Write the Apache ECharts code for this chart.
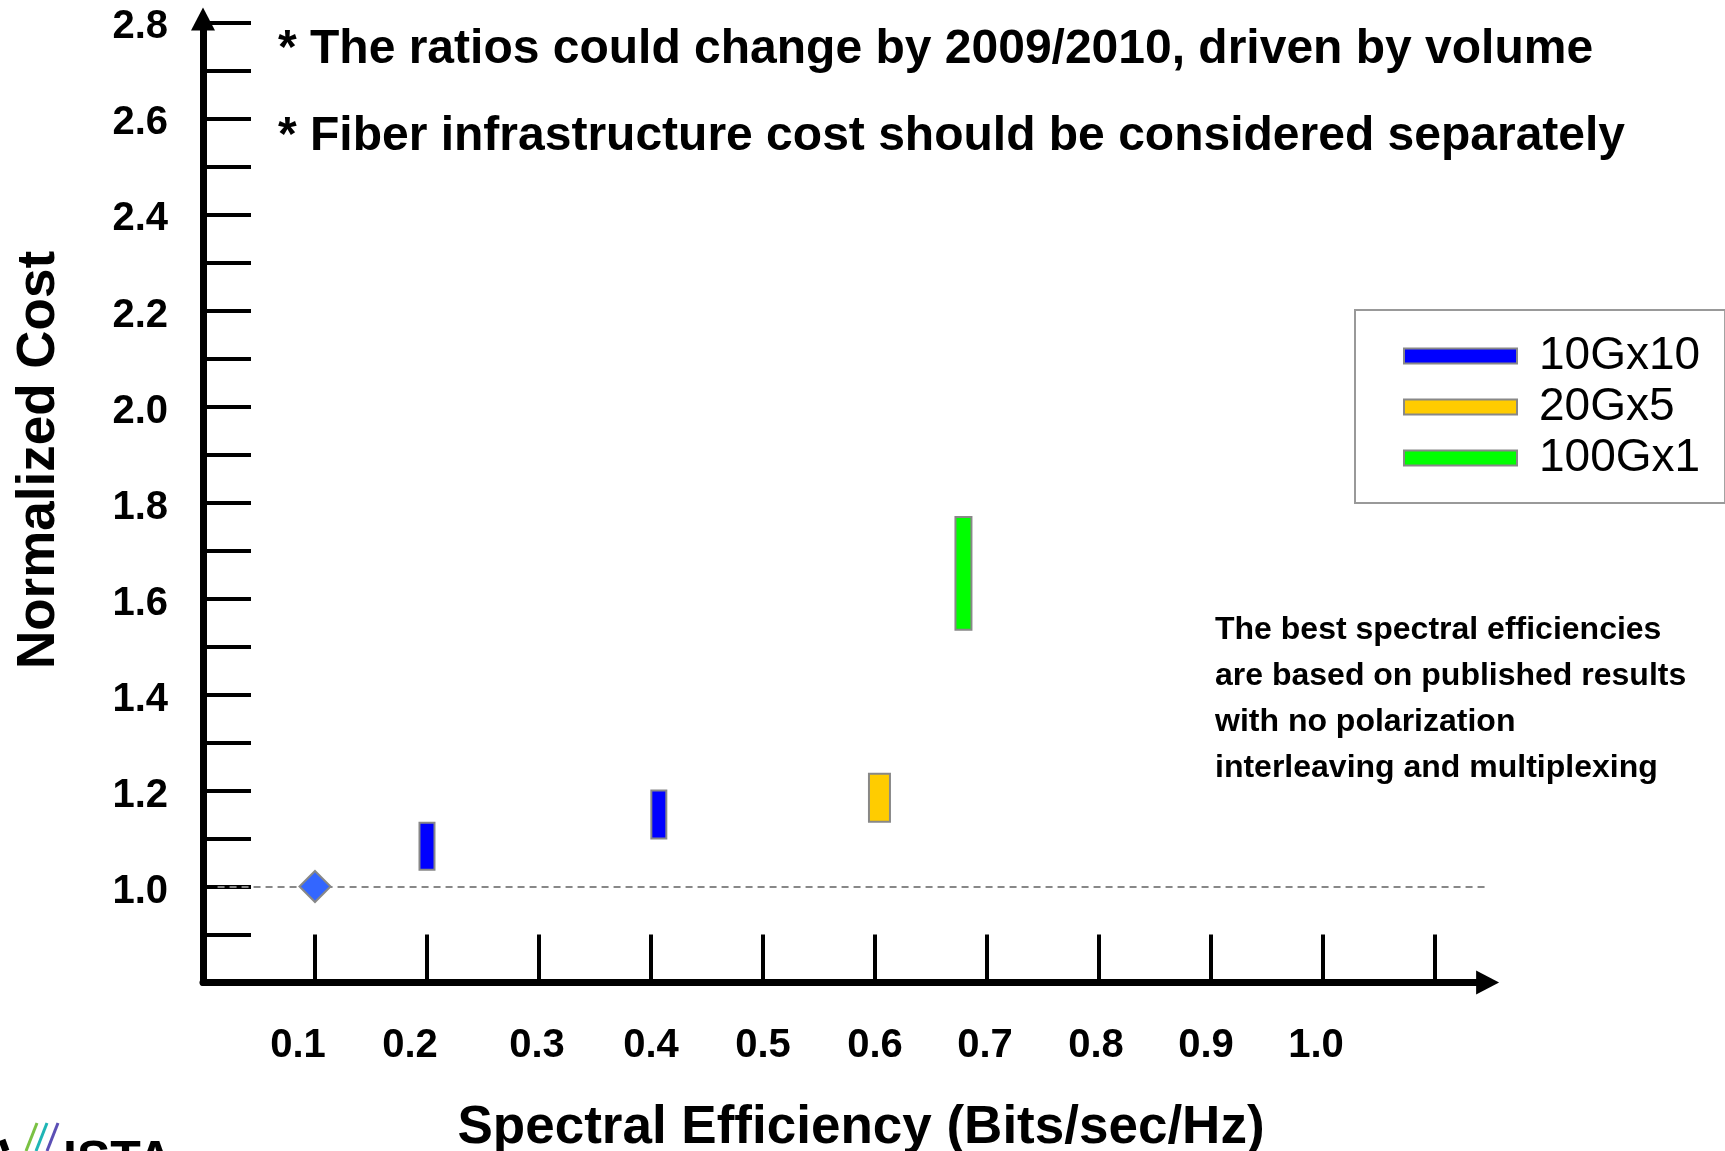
<!DOCTYPE html>
<html>
<head>
<meta charset="utf-8">
<script src="https://cdn.jsdelivr.net/npm/echarts@6/dist/echarts.min.js"></script>
<style>
  html, body { margin: 0; padding: 0; background: #fff; }
  #chart { width: 1725px; height: 1151px; }
</style>
</head>
<body>
<div id="chart"></div>
<script>
// data: [spectral efficiency, low cost, high cost]
var seriesNames = ['10Gx10', '20Gx5', '100Gx1'];
var cost10Gx10 = [[0.2, 1.035, 1.133], [0.407, 1.10, 1.20]];
var cost20Gx5 = [[0.604, 1.135, 1.235]];
var cost100Gx1 = [[0.679, 1.535, 1.77]];
var baseline = [[0.1, 1.0]];

var xTicks = [0.1, 0.2, 0.3, 0.4, 0.5, 0.6, 0.7, 0.8, 0.9, 1.0, 1.1];
var xLabels = [0.1, 0.2, 0.3, 0.4, 0.5, 0.6, 0.7, 0.8, 0.9, 1.0];
var yTicks = [0.9, 1.0, 1.1, 1.2, 1.3, 1.4, 1.5, 1.6, 1.7, 1.8, 1.9, 2.0, 2.1, 2.2, 2.3, 2.4, 2.5, 2.6, 2.7, 2.8];
var yLabels = [1.0, 1.2, 1.4, 1.6, 1.8, 2.0, 2.2, 2.4, 2.6, 2.8];

var notes = [
  '* The ratios could change by 2009/2010, driven by volume',
  '* Fiber infrastructure cost should be considered separately'
];
var sideNote = [
  'The best spectral efficiencies',
  'are based on published results',
  'with no polarization',
  'interleaving and multiplexing'
];

var FONT = '"Liberation Sans", Arial, sans-serif';
var colors = { '10Gx10': '#0000FF', '20Gx5': '#FFCC00', '100Gx1': '#00FF00' };
var barWidth = { '10Gx10': 15, '20Gx5': 21, '100Gx1': 16 };
// on the slide the x labels sit a little left of their ticks (px)
var xLabelShift = { '0.1': 17, '0.2': 17, '0.3': 2, '0.7': 2, '0.8': 3, '0.9': 5, '1.0': 7 };

// vertical range bar drawn through the axes
function rangeBar(name) {
  return function (params, api) {
    var top = api.coord([api.value(0), api.value(2)]);
    var bot = api.coord([api.value(0), api.value(1)]);
    var w = barWidth[name];
    return {
      type: 'rect',
      shape: { x: top[0] - w / 2, y: top[1], width: w, height: bot[1] - top[1] },
      style: { fill: colors[name], stroke: '#888', lineWidth: 2 }
    };
  };
}

function barSeries(name, data) {
  return {
    name: name,
    type: 'custom',
    renderItem: rangeBar(name),
    encode: { x: 0, y: [1, 2] },
    itemStyle: { color: colors[name] },
    data: data,
    z: 5
  };
}

var labelFont = { fontSize: 40, fontWeight: 'bold', color: '#000', fontFamily: FONT };

var xRich = {};
Object.keys(xLabelShift).forEach(function (k, i) {
  xRich['s' + i] = Object.assign({ padding: [0, xLabelShift[k] * 2, 0, 0] }, labelFont);
});

var chart = echarts.init(document.getElementById('chart'));

var option = {
  backgroundColor: '#fff',
  animation: false,
  textStyle: { fontFamily: FONT },
  grid: {
    left: 203, top: 19.1, width: 1284.6, height: 963.4,
    outerBoundsMode: 'none'
  },
  legend: {
    left: 1355, top: 310,
    orient: 'vertical',
    padding: [23, 25, 22, 48],
    itemGap: 5,
    itemWidth: 113, itemHeight: 15,
    borderColor: '#999', borderWidth: 2,
    selectedMode: false,
    textStyle: { fontSize: 46, color: '#000', fontFamily: FONT, padding: [0, 0, 0, 17] },
    data: seriesNames.map(function (n) {
      return { name: n, icon: 'rect', itemStyle: { color: colors[n], borderColor: '#888', borderWidth: 2 } };
    })
  },
  xAxis: {
    type: 'value',
    min: 0, max: 1.147,
    axisLine: {
      show: true, onZero: false,
      lineStyle: { color: '#000', width: 7 },
      symbol: ['none', 'triangle'], symbolSize: [24, 23]
    },
    axisTick: {
      show: true, inside: true, length: 48,
      lineStyle: { color: '#000', width: 4 },
      customValues: xTicks
    },
    axisLabel: Object.assign({
      show: true, margin: 43,
      customValues: xLabels,
      formatter: function (v) {
        var t = v.toFixed(1);
        var idx = Object.keys(xLabelShift).indexOf(t);
        return idx >= 0 ? '{s' + idx + '|' + t + '}' : t;
      },
      rich: xRich
    }, labelFont),
    splitLine: { show: false }
  },
  yAxis: {
    type: 'value',
    min: 0.8, max: 2.807,
    axisLine: {
      show: true, onZero: false,
      lineStyle: { color: '#000', width: 7 },
      symbol: ['none', 'triangle'], symbolSize: [24, 23]
    },
    axisTick: {
      show: true, inside: true, length: 48,
      lineStyle: { color: '#000', width: 4 },
      customValues: yTicks
    },
    axisLabel: Object.assign({
      show: true, margin: 35,
      customValues: yLabels,
      formatter: function (v) { return '{d|' + v.toFixed(1) + '}'; },
      rich: { d: Object.assign({ padding: [10, 0, 0, 0] }, labelFont) }
    }, labelFont),
    splitLine: { show: false }
  },
  series: [
    barSeries('10Gx10', cost10Gx10),
    barSeries('20Gx5', cost20Gx5),
    barSeries('100Gx1', cost100Gx1),
    {
      name: 'baseline',
      type: 'scatter',
      symbol: 'diamond',
      symbolSize: 31,
      itemStyle: { color: '#3366FF', borderColor: '#888', borderWidth: 2, opacity: 1 },
      data: baseline,
      z: 6,
      markLine: {
        silent: true,
        symbol: 'none',
        label: { show: false },
        lineStyle: { color: '#888', width: 2, type: [7, 5] },
        data: [[{ coord: [0.013, 1.0] }, { coord: [1.145, 1.0] }]],
        z: 1
      }
    }
  ],
  graphic: [
    {
      type: 'text', left: 278, top: 25.5,
      style: { text: notes[0], font: 'bold 48px ' + FONT, fill: '#000' }
    },
    {
      type: 'text', left: 278, top: 112.5,
      style: { text: notes[1], font: 'bold 48px ' + FONT, fill: '#000' }
    },
    {
      type: 'text', left: 1215, top: 607,
      style: { text: sideNote.join('\n'), font: 'bold 32px ' + FONT, fill: '#000', lineHeight: 46 }
    },
    {
      type: 'text', x: 39, y: 460, rotation: Math.PI / 2,
      style: {
        text: 'Normalized Cost', font: 'bold 53px ' + FONT, fill: '#000',
        align: 'center', verticalAlign: 'middle'
      }
    },
    {
      type: 'text', x: 861, y: 1128,
      style: {
        text: 'Spectral Efficiency (Bits/sec/Hz)', font: 'bold 53px ' + FONT, fill: '#000',
        align: 'center', verticalAlign: 'middle'
      }
    },
    // logo, cut off at the bottom edge of the slide
    { type: 'line', shape: { x1: 37, y1: 1123, x2: 26, y2: 1151 }, style: { stroke: '#7AC143', lineWidth: 3 } },
    { type: 'line', shape: { x1: 47, y1: 1123, x2: 36, y2: 1151 }, style: { stroke: '#1FB5B5', lineWidth: 3 } },
    { type: 'line', shape: { x1: 58, y1: 1123, x2: 47, y2: 1151 }, style: { stroke: '#5B4FB5', lineWidth: 3 } },
    { type: 'line', shape: { x1: 2, y1: 1140, x2: 6, y2: 1151 }, style: { stroke: '#000', lineWidth: 7 } },
    {
      type: 'text', left: 63, top: 1137,
      style: { text: 'ISTA', font: 'bold 50px ' + FONT, fill: '#000' }
    }
  ]
};

chart.setOption(option);
</script>
</body>
</html>
